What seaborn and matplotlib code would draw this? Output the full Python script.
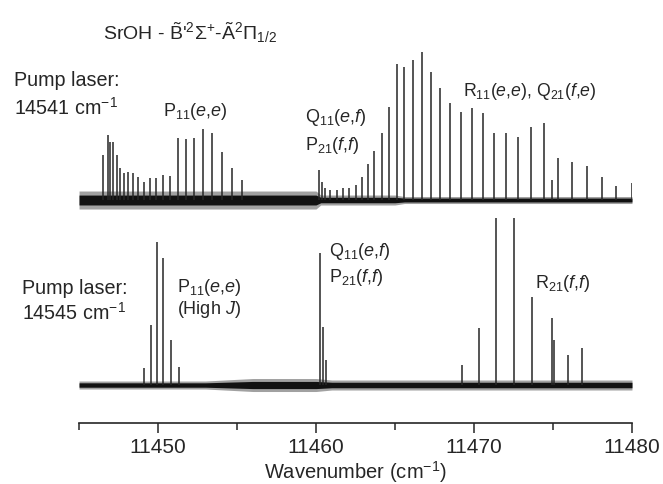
import numpy as np
import seaborn as sns
import matplotlib.pyplot as plt

# wavenumber (cm-1) and relative intensity
top_pos = [11446.54, 11446.82, 11446.96, 11447.17, 11447.39, 11447.59, 11447.85,
           11448.12, 11448.40, 11448.75, 11449.11, 11449.49, 11449.87, 11450.34,
           11450.76, 11451.25, 11451.75, 11452.28, 11452.87, 11453.44, 11454.03,
           11454.70, 11455.30,
           11460.21, 11460.40, 11460.60, 11460.9, 11461.3, 11461.7, 11462.1, 11462.5,
           11462.93, 11463.31, 11463.69, 11464.16, 11464.62, 11465.11, 11465.57,
           11466.12, 11466.69, 11467.26, 11467.85, 11468.48, 11469.16, 11469.85,
           11470.59, 11471.27, 11472.03, 11472.80, 11473.61, 11474.45, 11474.92,
           11475.34, 11476.18, 11477.13, 11478.08, 11478.99, 11479.98]
top_int = [45, 65, 58, 58, 45, 32, 27,
           28, 27, 23, 18, 22, 22, 25,
           24, 62, 61, 62, 71, 67, 48,
           32, 20,
           30, 18, 12, 10, 10, 12, 12, 15,
           23, 36, 49, 67, 93, 136, 133,
           140, 148, 128, 112, 97, 88, 92,
           87, 67, 67, 63, 73, 77, 20,
           42, 38, 34, 23, 14, 17]

bot_pos = [11449.13, 11449.54, 11449.92, 11450.34, 11450.82, 11451.31,
           11460.25, 11460.44, 11460.62,
           11469.22, 11470.30, 11471.39, 11472.53, 11473.69, 11474.95,
           11475.05, 11475.97, 11476.84]
bot_int = [17, 60, 143, 127, 45, 18,
           132, 58, 25,
           20, 57, 167, 167, 88, 67,
           45, 30, 37]

# baseline noise half-width
top_noise_x = [11445, 11460.0, 11460.3, 11465.0, 11465.6, 11480]
top_noise = [9, 9, 5, 5, 3.5, 3.5]
bot_noise_x = [11445, 11453, 11456, 11460, 11461, 11480]
bot_noise = [4, 4, 6.5, 6.5, 5, 5]

major_ticks = [11450, 11460, 11470, 11480]
minor_ticks = [11445, 11455, 11465, 11475]

sns.set_style("ticks")
plt.rcParams['font.family'] = ['Liberation Sans', 'DejaVu Sans']
plt.rcParams['mathtext.fontset'] = 'custom'
plt.rcParams['mathtext.rm'] = 'Liberation Sans'
plt.rcParams['mathtext.it'] = 'Liberation Sans:italic'

fig = plt.figure(figsize=(6.63, 4.84), dpi=100)
ax = fig.add_axes([0.1192, 0.126, 0.834, 0.7913])

top_base, bot_base = 223, 38
line_c = '#262626'
for base, nx, nw, pos, inten in [(top_base, top_noise_x, top_noise, top_pos, top_int),
                                 (bot_base, bot_noise_x, bot_noise, bot_pos, bot_int)]:
    nx = np.array(nx)
    nw = np.array(nw)
    # outer grey fringe and dense black core of the noisy baseline
    ax.fill_between(nx, base - nw, base + nw, color='#8a8a8a', lw=0, alpha=0.8)
    ax.fill_between(nx, base - 0.55 * nw, base + 0.55 * nw, color='#111111', lw=0)
    ax.vlines(pos, base, base + np.array(inten), color=line_c, lw=1.1)

ax.set_xlim(11445, 11480)
ax.set_ylim(0, 383)
ax.set_yticks([])
ax.set_xticks(major_ticks)
ax.set_xticks(minor_ticks, minor=True)
ax.tick_params(axis='x', which='major', length=7, width=1.1, labelsize=15, pad=4)
ax.tick_params(axis='x', which='minor', length=5, width=1.1)
sns.despine(ax=ax, left=True)
ax.spines['bottom'].set_linewidth(1.2)
ax.set_xlabel(r"Wavenumber (cm$^{-1}$)", fontsize=14.5, labelpad=1)


def put(x, y, s, size=13):
    fig.text(x / 663, 1 - y / 484, s, fontsize=size, va='center', ha='left')


put(103, 33, r"SrOH - $\tilde{\mathrm{B}}$'$^{2}\Sigma^{+}$-$\tilde{\mathrm{A}}^{2}\Pi_{1/2}$", 14)
put(14, 80, "Pump laser:", 14.2)
put(14, 108, r"14541 cm$^{-1}$", 14.2)
put(163, 112, r"P$_{11}$($e$,$e$)", 13)
put(305, 117, r"Q$_{11}$($e$,$f$)", 13)
put(305, 145, r"P$_{21}$($f$,$f$)", 13)
put(463, 92, r"R$_{11}$($e$,$e$), Q$_{21}$($f$,$e$)", 12.7)
put(22, 288, "Pump laser:", 14.2)
put(22, 313, r"14545 cm$^{-1}$", 14.2)
put(177, 287, r"P$_{11}$($e$,$e$)", 13)
put(177, 309, r"(High $J$)", 13)
put(329, 252, r"Q$_{11}$($e$,$f$)", 13)
put(329, 278, r"P$_{21}$($f$,$f$)", 13)
put(535, 283, r"R$_{21}$($f$,$f$)", 13)

fig.savefig("out.png", dpi=100)
